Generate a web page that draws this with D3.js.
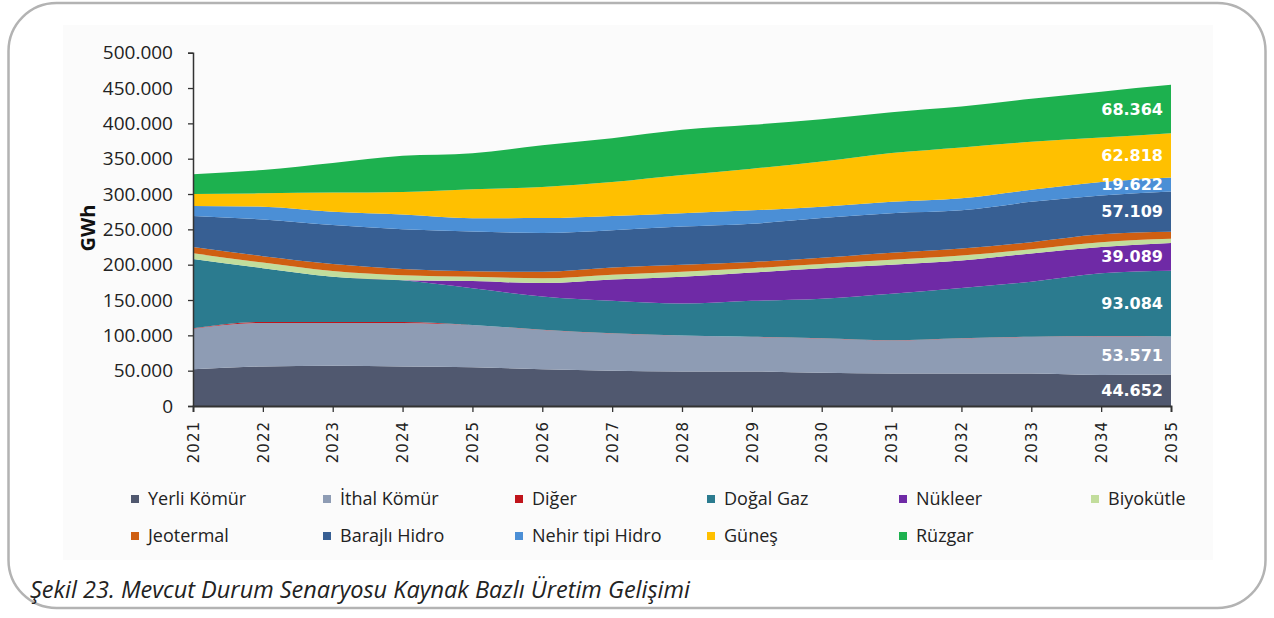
<!DOCTYPE html>
<html>
<head>
<meta charset="utf-8">
<script src="https://cdn.jsdelivr.net/npm/d3@7"></script>
<style>
  html, body { margin: 0; padding: 0; background: #fff; }
  svg { display: block; }
</style>
</head>
<body>
<div id="chart"></div>
<script>
// values in GWh
const years = [2021, 2022, 2023, 2024, 2025, 2026, 2027, 2028, 2029, 2030, 2031, 2032, 2033, 2034, 2035];
const seriesNames = ["Yerli Kömür", "İthal Kömür", "Diğer", "Doğal Gaz", "Nükleer", "Biyokütle",
    "Jeotermal", "Barajlı Hidro", "Nehir tipi Hidro", "Güneş", "Rüzgar"];

const yerliKomur = [52000, 56000, 57000, 56000, 55000, 52000, 50000, 49000, 49000, 47000, 46000, 46000, 46000, 44000, 44652];
const ithalKomur = [57500, 61500, 60500, 61500, 59500, 55700, 52700, 50700, 48700, 48700, 46700, 49700, 51700, 54700, 53571];
const diger = [500, 1500, 1500, 1500, 300, 200, 200, 200, 200, 200, 200, 200, 200, 200, 200];
const dogalGaz = [98000, 76000, 64000, 59000, 52000, 47000, 46000, 45000, 51000, 56000, 66000, 71000, 78000, 89000, 93084];
const nukleer = [0, 0, 0, 0, 10000, 19000, 30000, 38000, 40000, 43000, 41000, 39000, 40000, 37000, 39089];
const biyokutle = [8000, 8000, 8000, 7000, 6000, 7000, 7000, 7000, 6000, 6000, 7000, 7000, 6000, 7000, 6000];
const jeotermal = [9000, 9000, 10000, 9000, 8000, 9000, 10000, 10000, 9000, 9000, 10000, 10000, 10000, 11000, 10000];
const barajliHidro = [44000, 52000, 55000, 56000, 56000, 55000, 53000, 54000, 54000, 56000, 56000, 54000, 57000, 55000, 57109];
const nehirHidro = [14000, 18000, 19000, 21000, 19000, 21000, 20000, 19000, 19000, 16000, 16000, 17000, 17000, 19000, 19622];
const gunes = [17000, 19000, 27000, 32000, 41000, 44000, 48000, 54000, 59000, 64000, 69000, 72000, 68000, 63000, 62818];
const ruzgar = [28000, 33000, 42000, 51000, 51000, 59000, 62000, 64000, 62000, 60000, 58000, 58000, 61000, 65000, 68364];

const yTicks = [0, 50000, 100000, 150000, 200000, 250000, 300000, 350000, 400000, 450000, 500000];
// series that carry a value label at the last year
const labelledSeries = ["Yerli Kömür", "İthal Kömür", "Doğal Gaz", "Nükleer", "Barajlı Hidro", "Nehir tipi Hidro", "Güneş", "Rüzgar"];

const colors = {
    "Yerli Kömür": "#50586f",
    "İthal Kömür": "#8e9cb4",
    "Diğer": "#c0141b",
    "Doğal Gaz": "#2b7b8f",
    "Nükleer": "#6f2aa6",
    "Biyokütle": "#c2dd9c",
    "Jeotermal": "#cf5f12",
    "Barajlı Hidro": "#375f93",
    "Nehir tipi Hidro": "#4b8fd6",
    "Güneş": "#ffc000",
    "Rüzgar": "#1db14f"
};

function main() {
    const canvasWidth = 1274;
    const canvasHeight = 618;

    const svg = d3.select("#chart").append("svg")
        .attr("width", canvasWidth)
        .attr("height", canvasHeight);

    const valuesBySeries = [yerliKomur, ithalKomur, diger, dogalGaz, nukleer, biyokutle,
        jeotermal, barajliHidro, nehirHidro, gunes, ruzgar];

    const rows = years.map((yr, i) => {
        const row = { year: yr };
        seriesNames.forEach((name, j) => { row[name] = valuesBySeries[j][i]; });
        return row;
    });

    const locale = d3.formatLocale({ decimal: ",", thousands: ".", grouping: [3], currency: ["", ""] });
    const fmt = locale.format(",");

    // outer frame
    svg.append("rect")
        .attr("x", 8.5)
        .attr("y", 3)
        .attr("width", 1257)
        .attr("height", 605)
        .attr("rx", 48)
        .attr("fill", "none")
        .attr("stroke", "#b3b3b3")
        .attr("stroke-width", 2.5);

    svg.append("rect")
        .attr("x", 63)
        .attr("y", 25)
        .attr("width", 1150)
        .attr("height", 535)
        .attr("fill", "#fbfbfb");

    const xScale = d3.scaleLinear().domain([2021, 2035]).range([193, 1171]);
    const yScale = d3.scaleLinear().domain([0, 500000]).range([406, 52.7]);

    const stack = d3.stack().keys(seriesNames);
    const layers = stack(rows);

    const area = d3.area()
        .curve(d3.curveMonotoneX)
        .x(d => xScale(d.data.year))
        .y0(d => yScale(d[0]))
        .y1(d => yScale(d[1]));

    svg.append("g").selectAll("path")
        .data(layers)
        .enter()
        .append("path")
        .attr("d", area)
        .attr("fill", d => colors[d.key]);

    // y axis
    const yAxis = svg.append("g")
        .attr("transform", "translate(" + xScale(2021) + ",0)")
        .call(d3.axisLeft(yScale).tickValues(yTicks).tickFormat(fmt).tickSize(5).tickPadding(15));
    yAxis.select(".domain").attr("stroke", "#333").attr("stroke-width", 1.5);
    yAxis.selectAll(".tick line").attr("stroke", "#333").attr("stroke-width", 1.3);
    yAxis.selectAll("text")
        .attr("font-family", "'Open Sans', sans-serif")
        .attr("font-size", "19px")
        .attr("fill", "#222");

    // x axis
    const xAxis = svg.append("g")
        .attr("transform", "translate(0," + yScale(0) + ")")
        .call(d3.axisBottom(xScale).tickValues(years).tickFormat(d => String(d)).tickSize(6));
    xAxis.select(".domain").attr("stroke", "#333").attr("stroke-width", 1.8);
    xAxis.selectAll(".tick line").attr("stroke", "#333").attr("stroke-width", 1.3);
    xAxis.selectAll("text")
        .attr("font-family", "'DejaVu Sans', sans-serif")
        .attr("font-size", "15px")
        .attr("letter-spacing", "1px")
        .attr("fill", "#222")
        .attr("text-anchor", "end")
        .attr("transform", "rotate(-90)")
        .attr("x", -15)
        .attr("y", 0)
        .attr("dy", "0.35em");

    svg.append("text")
        .attr("transform", "translate(88,228) rotate(-90)")
        .attr("text-anchor", "middle")
        .attr("dy", "0.35em")
        .attr("font-family", "'Open Sans', sans-serif")
        .attr("font-weight", "bold")
        .attr("font-size", "20px")
        .attr("fill", "#111")
        .text("GWh");

    // value labels at 2035
    const lastLayers = layers.filter(l => labelledSeries.includes(l.key));
    svg.append("g").selectAll("text")
        .data(lastLayers)
        .enter()
        .append("text")
        .attr("x", xScale(2035) - 8)
        .attr("y", d => yScale((d[d.length - 1][0] + d[d.length - 1][1]) / 2))
        .attr("dy", "0.35em")
        .attr("text-anchor", "end")
        .attr("font-family", "'DejaVu Sans', sans-serif")
        .attr("font-weight", "bold")
        .attr("font-size", "16px")
        .attr("fill", "#fff")
        .text(d => fmt(d[d.length - 1].data[d.key]));

    // legend, six per row
    const legendX0 = 131;
    const legendStep = 192;
    const legendRows = [499, 536];
    const legend = svg.append("g").selectAll("g")
        .data(seriesNames)
        .enter()
        .append("g")
        .attr("transform", (d, i) => "translate(" + (legendX0 + (i % 6) * legendStep) + "," + legendRows[Math.floor(i / 6)] + ")");
    legend.append("rect")
        .attr("x", 0)
        .attr("y", -4)
        .attr("width", 8)
        .attr("height", 8)
        .attr("fill", d => colors[d]);
    legend.append("text")
        .attr("x", 17)
        .attr("dy", "0.35em")
        .attr("font-family", "'Open Sans', sans-serif")
        .attr("font-size", "18px")
        .attr("fill", "#222")
        .text(d => d);

    svg.append("text")
        .attr("x", 30)
        .attr("y", 598)
        .attr("font-family", "'Open Sans', sans-serif")
        .attr("font-style", "italic")
        .attr("font-size", "23.5px")
        .attr("fill", "#222")
        .text("Şekil 23. Mevcut Durum Senaryosu Kaynak Bazlı Üretim Gelişimi");
}
main();
</script>
</body>
</html>
